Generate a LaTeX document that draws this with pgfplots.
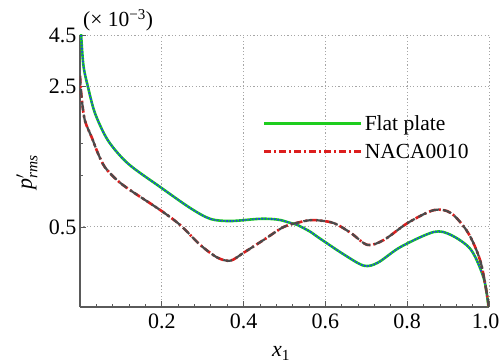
\documentclass[border=0pt]{standalone}
\usepackage{amsmath}
\usepackage{pgfplots}
\pgfplotsset{compat=1.18}
\usepackage{fontspec}
\setmainfont{Liberation Serif}
\definecolor{cgreen}{RGB}{30,205,30}
\definecolor{cblue}{RGB}{30,60,235}
\definecolor{cred}{RGB}{220,30,30}
\definecolor{cgray}{RGB}{75,75,75}
\definecolor{caxis}{RGB}{90,90,90}
\begin{document}
\begin{tikzpicture}
\begin{axis}[
  name=ax,
  at={(0,0)}, anchor=south west,
  scale only axis, width=409pt, height=272pt,
  xmin=0, xmax=1, ymin=0.2, ymax=4.5,
  ymode=log,
  axis x line*=bottom, axis y line*=left,
  axis line style={caxis, line width=1.4pt},
  xtick={0,0.2,0.4,0.6,0.8,1.0},
  xticklabels={,0.2,0.4,0.6,0.8,\hspace*{-7pt}1.0},
  minor x tick num=4,
  ytick={0.5,2.5,4.5},
  yticklabels={0.5,2.5,4.5},
  minor ytick={0.9,1.3},
  tick align=inside,
  major tick length=6pt, minor tick length=3.5pt,
  tick style={caxis, line width=0.8pt},
  grid=major,
  major grid style={gray!70, line width=0.9pt, dash pattern=on 1.2pt off 2.2pt},
  ticklabel style={font=\fontsize{22}{26}\selectfont},
  xticklabel style={yshift=-3pt},
  /pgf/number format/assume math mode=true,
  legend style={draw=none, fill=none, at={(0.44,0.72)}, anchor=north west,
     font=\fontsize{21.5}{25}\selectfont, row sep=8pt},
  legend cell align=left,
  legend image code/.code={\draw[#1] (0pt,0pt) -- (92pt,0pt); \path (0pt,0pt) -- (97pt,0pt);},
]
\addplot[cgreen, line width=2.6pt, smooth] coordinates {
(0.001,5.2) (0.008,3.22) (0.020,2.46) (0.037,1.83) (0.069,1.34) (0.118,1.03)
(0.196,0.79) (0.270,0.62) (0.319,0.548) (0.368,0.535) (0.434,0.548) (0.466,0.548)
(0.490,0.541) (0.515,0.523) (0.532,0.511) (0.564,0.472) (0.581,0.446) (0.645,0.365)
(0.694,0.321) (0.728,0.332) (0.784,0.398) (0.865,0.472) (0.907,0.456) (0.956,0.385)
(0.988,0.274) (1.0,0.19)};
\addlegendentry{Flat plate}
\addplot[cblue, line width=1.6pt, dash pattern=on 1.6pt off 1.6pt, smooth, forget plot] coordinates {
(0.001,5.2) (0.008,3.22) (0.020,2.46) (0.037,1.83) (0.069,1.34) (0.118,1.03)
(0.196,0.79) (0.270,0.62) (0.319,0.548) (0.368,0.535) (0.434,0.548) (0.466,0.548)
(0.490,0.541) (0.515,0.523) (0.532,0.511) (0.564,0.472) (0.581,0.446) (0.645,0.365)
(0.694,0.321) (0.728,0.332) (0.784,0.398) (0.865,0.472) (0.907,0.456) (0.956,0.385)
(0.988,0.274) (1.0,0.19)};
\addplot[cred, line width=2.6pt, dash pattern=on 7pt off 3pt on 2pt off 3pt, smooth] coordinates {
(0.0,2.82) (0.004,2.19) (0.012,1.69) (0.029,1.39) (0.044,1.16) (0.061,0.99)
(0.091,0.853) (0.123,0.761) (0.196,0.607) (0.245,0.511) (0.294,0.407) (0.336,0.352)
(0.368,0.34) (0.400,0.372) (0.449,0.431) (0.498,0.5) (0.539,0.529) (0.571,0.541)
(0.620,0.523) (0.662,0.467) (0.703,0.407) (0.743,0.431) (0.801,0.523) (0.865,0.606)
(0.907,0.586) (0.949,0.467) (0.980,0.332) (1.0,0.2)};
\addlegendentry{NACA0010}
\addplot[cgray, line width=2.2pt, dash pattern=on 9pt off 4pt, smooth, forget plot] coordinates {
(0.0,2.82) (0.004,2.19) (0.012,1.69) (0.029,1.39) (0.044,1.16) (0.061,0.99)
(0.091,0.853) (0.123,0.761) (0.196,0.607) (0.245,0.511) (0.294,0.407) (0.336,0.352)
(0.368,0.34) (0.400,0.372) (0.449,0.431) (0.498,0.5) (0.539,0.529) (0.571,0.541)
(0.620,0.523) (0.662,0.467) (0.703,0.407) (0.743,0.431) (0.801,0.523) (0.865,0.606)
(0.907,0.586) (0.949,0.467) (0.980,0.332) (1.0,0.2)};
\end{axis}
\node[anchor=base west, font=\fontsize{21.5}{25}\selectfont, inner sep=0pt] at (3pt,280pt) {(× 10\textsuperscript{−3})};
\node[anchor=base, font=\fontsize{22}{26}\selectfont, inner sep=0pt] at (201pt,-50pt) {$\textit{x}_{\textrm{1}}$};
\node[anchor=center, rotate=90, font=\fontsize{22}{26}\selectfont, inner sep=0pt] at (-53pt,135pt) {$\textit{p}'_{\textit{rms}}$};
\pgfresetboundingbox
\path (-80pt,-56pt) rectangle (421pt,307pt);
\end{tikzpicture}
\end{document}
